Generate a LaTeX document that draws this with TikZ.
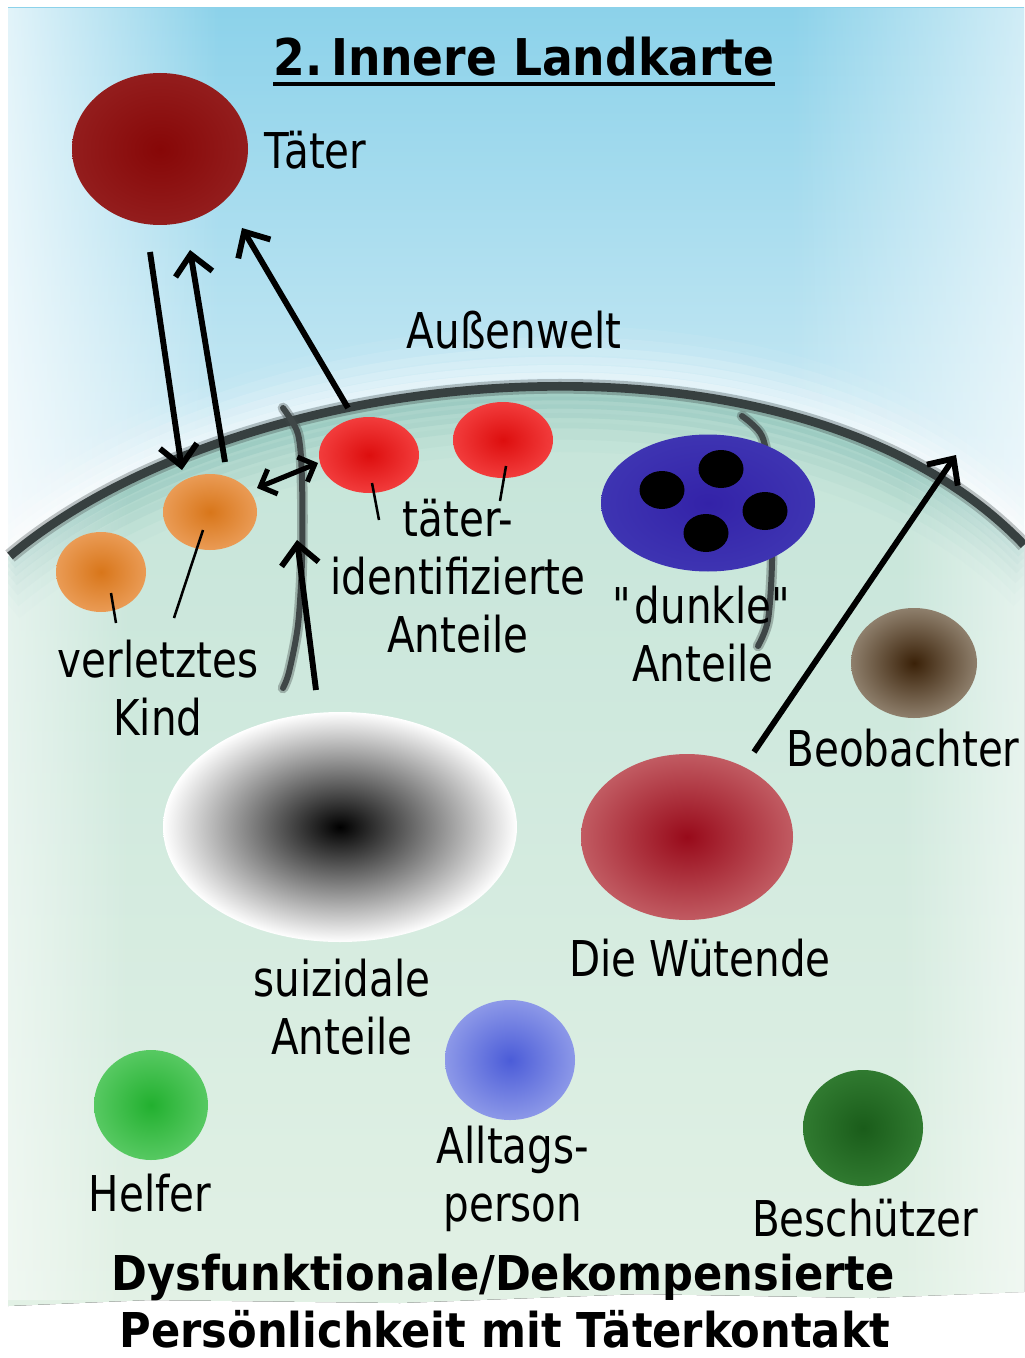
\documentclass[tikz,border=0pt]{standalone}
\usepackage{fontspec}
\setmainfont{DejaVu Sans}[FakeStretch=0.82,BoldFeatures={FakeStretch=0.9}]
\usetikzlibrary{arrows.meta,fadings,shapes.geometric}
\tikzfading[name=fadeL, left color=transparent!0, right color=transparent!100]
\tikzfading[name=fadeR, left color=transparent!100, right color=transparent!0]
\definecolor{skytop}{HTML}{8CD2EA}
\definecolor{skybot}{HTML}{E4F3F8}
\definecolor{grtop}{HTML}{C2E3D8}
\definecolor{grbot}{HTML}{E2F1E5}
\definecolor{teal}{HTML}{86BEB6}
\definecolor{arcc}{HTML}{374040}
\definecolor{crackc}{HTML}{3F4747}
\definecolor{taterin}{HTML}{870707}
\definecolor{taterout}{HTML}{931D1D}
\definecolor{orin}{HTML}{D8761A}
\definecolor{orout}{HTML}{EA9B55}
\definecolor{redin}{HTML}{DD0E0E}
\definecolor{redout}{HTML}{F23C3C}
\definecolor{bluein}{HTML}{3322A8}
\definecolor{blueout}{HTML}{3E34B2}
\definecolor{brin}{HTML}{3A2108}
\definecolor{brout}{HTML}{8E7F6C}
\definecolor{wutin}{HTML}{980A1A}
\definecolor{wutout}{HTML}{C15B62}
\definecolor{altin}{HTML}{4B5CD8}
\definecolor{altout}{HTML}{8C98E8}
\definecolor{helin}{HTML}{22B02F}
\definecolor{helout}{HTML}{57C962}
\definecolor{bein}{HTML}{1A5C1A}
\definecolor{beout}{HTML}{307A30}
\tikzset{
  blob/.style={ellipse, inner sep=0pt, outer sep=0pt},
  sz/.style 2 args={minimum width=#1*0.75pt, minimum height=#2*0.75pt},
  lbl/.style={font=\fontsize{37}{43.5}\selectfont, align=center, inner sep=0pt, text=black},
  boldtxt/.style={font=\bfseries\fontsize{36}{40}\selectfont, inner sep=0pt},
  arr/.style={line width=4.4pt, -{Straight Barb[length=15pt,width=28pt]}},
  darr/.style={line width=3.8pt, {Straight Barb[length=10pt,width=20pt]}-{Straight Barb[length=10pt,width=20pt]}},
  tick/.style={line width=1.9pt},
  crack/.style={line width=4.5pt, draw=crackc, line cap=round},
}
\begin{document}
\begin{tikzpicture}[x=0.75pt,y=-0.75pt]
\def\arcpath{(10,556) .. controls (250,355) and (800,310) .. (1024,545)}
\useasboundingbox (0,0) rectangle (1024,1358);
\fill[white] (0,0) rectangle (1024,1358);
% sky
\fill[top color=skytop, bottom color=skybot] (8,8) rectangle (1024,640);
\fill[white, path fading=fadeL, opacity=.75] (8,8) rectangle (220,640);
\fill[white, path fading=fadeR, opacity=.6] (790,8) rectangle (1024,640);
\foreach \s/\w/\o in {-6/12/.3, -12/14/.25, -19/16/.2, -27/18/.15, -36/20/.1, -46/22/.06}{
  \begin{scope}[shift={(0,\s)}]
  \draw[white, line width=\w pt, opacity=\o] \arcpath;
  \end{scope}
}
% green interior
\fill[top color=grtop, bottom color=grbot] \arcpath -- (1024,1292) -- (870,1298) -- (640,1294) -- (400,1303) -- (150,1300) -- (8,1306) -- (8,556) -- cycle;
\begin{scope}
\clip \arcpath -- (1024,1300) -- (8,1300) -- (8,556) -- cycle;
\foreach \s/\w/\o in {6/12/.35, 13/14/.28, 21/16/.2, 30/18/.14, 40/20/.09, 51/22/.05}{
  \begin{scope}[shift={(0,\s)}]
  \draw[teal, line width=\w pt, opacity=\o] \arcpath;
  \end{scope}
}
\fill[white, path fading=fadeL, opacity=.5] (8,380) rectangle (130,1310);
\fill[white, path fading=fadeR, opacity=.5] (900,380) rectangle (1024,1310);
\end{scope}
% dome outline
\draw[arcc, line width=11pt, opacity=.3] \arcpath;
\draw[arcc, line width=6.5pt] \arcpath;
% cracks
\draw[crack, opacity=.35, line width=8pt] plot[smooth] coordinates {(283,408) (298,434) (302,480) (302,560) (298,625) (289,672) (283,688)};
\draw[crack] plot[smooth] coordinates {(283,408) (298,434) (302,480) (302,560) (298,625) (289,672) (283,688)};
\draw[crack, opacity=.35, line width=8pt] plot[smooth] coordinates {(742,416) (762,436) (770,480) (772,560) (768,620) (758,646)};
\draw[crack] plot[smooth] coordinates {(742,416) (762,436) (770,480) (772,560) (768,620) (758,646)};

% title
\node[font=\bfseries\fontsize{38}{40}\selectfont, inner sep=0pt] (title) at (524,57) {2.\,Innere Landkarte};
\draw[line width=3pt] ([shift={(0,7)}]title.south west) -- ([shift={(0,7)}]title.south east);

% parts
\node[blob, sz={176}{152}, inner color=taterin, outer color=taterout] (tater) at (160,149) {};
\node[lbl, anchor=west] (taterl) at (264,150) {Täter};
\node[lbl] (aussen) at (514,330) {Außenwelt};

\node[blob, sz={94}{76}, inner color=orin, outer color=orout] (kind1) at (210,512) {};
\node[blob, sz={90}{80}, inner color=orin, outer color=orout] (kind2) at (101,572) {};
\node[blob, sz={100}{76}, inner color=redin, outer color=redout] (red1) at (369,455) {};
\node[blob, sz={100}{76}, inner color=redin, outer color=redout] (red2) at (503,440) {};

\node[blob, sz={214}{137}, inner color=bluein, outer color=blueout] (dunkel) at (708,503) {};
\node[blob, sz={45}{38}, fill=black] (d1) at (662,490) {};
\node[blob, sz={45}{38}, fill=black] (d2) at (721,469) {};
\node[blob, sz={45}{38}, fill=black] (d3) at (765,511) {};
\node[blob, sz={45}{38}, fill=black] (d4) at (706,533) {};

\node[blob, sz={126}{110}, inner color=brin, outer color=brout] (beob) at (914,663) {};
\node[blob, sz={354}{230}, inner color=black, outer color=white] (suiz) at (340,827) {};
\node[blob, sz={212}{166}, inner color=wutin, outer color=wutout] (wut) at (687,837) {};
\node[blob, sz={130}{120}, inner color=altin, outer color=altout] (allt) at (510,1060) {};
\node[blob, sz={114}{110}, inner color=helin, outer color=helout] (helf) at (151,1105) {};
\node[blob, sz={120}{116}, inner color=bein, outer color=beout] (besch) at (863,1128) {};

% labels
\node[lbl] (kindl) at (158,688) {verletztes\\Kind};
\node[lbl] (taeidl) at (458,576) {täter-\\identifizierte\\Anteile};
\node[lbl] (dunkl) at (703,634) {\textquotedbl dunkle\textquotedbl\\Anteile};
\node[lbl] (beobl) at (903,748) {Beobachter};
\node[lbl] (suizl) at (342,1007) {suizidale\\Anteile};
\node[lbl] (wutl) at (700,958) {Die Wütende};
\node[lbl] (alltl) at (513,1179) {Alltags-\\person};
\node[lbl] (helfl) at (150,1193) {Helfer};
\node[lbl] (beschl) at (865,1218) {Beschützer};

\node[boldtxt] (bottom1) at (503,1277) {Dysfunktionale/Dekompensierte};
\node[boldtxt] (bottom2) at (505,1329) {Persönlichkeit mit Täterkontakt};

% label ticks
\coordinate (t1a) at (111,593); \coordinate (t1b) at (116,623);
\coordinate (t2a) at (203,530); \coordinate (t2b) at (174,618);
\coordinate (t3a) at (372,483); \coordinate (t3b) at (379,520);
\coordinate (t4a) at (506,466); \coordinate (t4b) at (500,501);
\draw[tick] (t1a) -- (t1b);
\draw[tick] (t2a) -- (t2b);
\draw[tick] (t3a) -- (t3b);
\draw[tick] (t4a) -- (t4b);

% arrows
\coordinate (a1s) at (150,252); \coordinate (a1e) at (182,470);
\coordinate (a2s) at (225,462); \coordinate (a2e) at (190,250);
\coordinate (a3s) at (348,408); \coordinate (a3e) at (242,228);
\coordinate (a4s) at (257,488); \coordinate (a4e) at (318,463);
\coordinate (a5s) at (316,690); \coordinate (a5e) at (297,540);
\coordinate (a6s) at (754,752); \coordinate (a6e) at (956,455);
\draw[arr] (a1s) -- (a1e);
\draw[arr] (a2s) -- (a2e);
\draw[arr] (a3s) -- (a3e);
\draw[darr] (a4s) -- (a4e);
\draw[arr] (a5s) -- (a5e);
\draw[arr] (a6s) -- (a6e);
\end{tikzpicture}
\end{document}
